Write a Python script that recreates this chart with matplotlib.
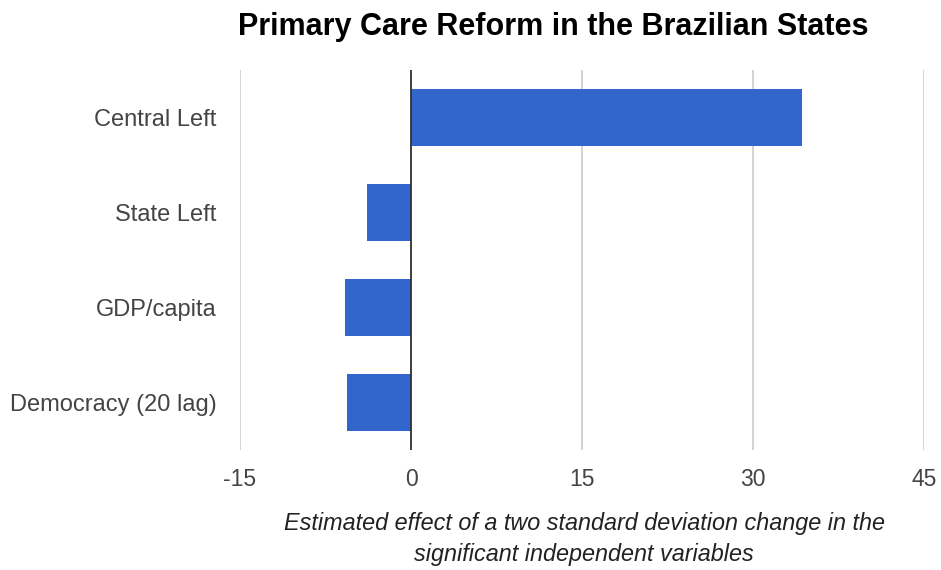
import matplotlib
matplotlib.use('Agg')
import matplotlib.pyplot as plt

plt.rcParams['font.family'] = ['Liberation Sans', 'DejaVu Sans']

# Data
categories = ['Central Left', 'State Left', 'GDP/capita', 'Democracy (20 lag)']
effects = [34.3, -3.9, -5.8, -5.6]
xticks = [-15, 0, 15, 30, 45]

W, H = 941, 570
fig = plt.figure(figsize=(W / 100, H / 100), dpi=100)

# plot area in pixels: x 240-924, y 70-450
ax = fig.add_axes([240 / W, (H - 450) / H, (924 - 240) / W, (450 - 70) / H])

ypos = list(range(len(categories)))
ax.barh(ypos, effects, height=0.61, color='#3366cc', zorder=3)

ax.set_xlim(-15, 45)
ax.set_ylim(len(categories) - 0.5, -0.5)
ax.set_xticks(xticks)
ax.set_xticklabels([str(t) for t in xticks])
ax.set_yticks(ypos)
ax.set_yticklabels(categories)

ax.grid(axis='x', color='#cccccc', linewidth=1.2, zorder=0)
ax.axvline(0, color='#333333', linewidth=1.3, zorder=4)

for s in ax.spines.values():
    s.set_visible(False)

ax.tick_params(axis='both', length=0, labelsize=16.5, labelcolor='#444444')
ax.tick_params(axis='y', labelsize=17, pad=17)
ax.tick_params(axis='x', pad=13)

fig.text(553 / W, 1 - 27 / H, 'Primary Care Reform in the Brazilian States',
         ha='center', va='center', fontsize=22, fontweight='bold', color='black')

fig.text(584 / W, 1 - 539 / H,
         'Estimated effect of a two standard deviation change in the\nsignificant independent variables',
         ha='center', va='center', fontsize=16.8, style='italic', color='#222222',
         linespacing=1.45)

fig.savefig('out.png', dpi=100)
